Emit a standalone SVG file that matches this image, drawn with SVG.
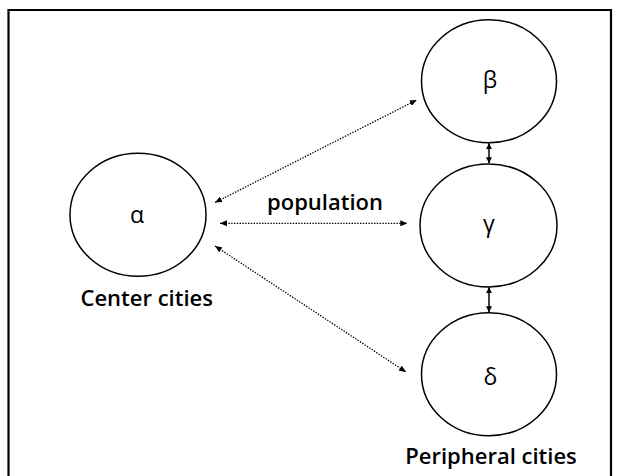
<svg xmlns="http://www.w3.org/2000/svg" width="617" height="476" viewBox="0 0 617 476">
  <style>
    .node { fill: #ffffff; stroke: #000000; stroke-width: 1.5; }
    .greek { font-family: "Open Sans", "Noto Sans", "DejaVu Sans", sans-serif; font-size: 23px; font-weight: 500; fill: #000000; text-anchor: middle; }
    .label { font-family: "Open Sans", "Noto Sans", "Liberation Sans", sans-serif; font-size: 22px; font-weight: 600; fill: #000000; text-anchor: middle; }
    .dotted { fill: none; stroke: #000000; stroke-width: 1.3; stroke-dasharray: 1.4 1.4; }
    .solid { fill: none; stroke: #000000; stroke-width: 1.5; }
  </style>
  <defs>
    <marker id="headDot" viewBox="0 0 7 6" refX="7" refY="3" markerWidth="7" markerHeight="6" markerUnits="userSpaceOnUse" orient="auto-start-reverse">
      <path d="M0,0 L7,3 L0,6 z" fill="#000000"/>
    </marker>
    <marker id="headSolid" viewBox="0 0 6 6" refX="6" refY="3" markerWidth="6" markerHeight="6" markerUnits="userSpaceOnUse" orient="auto-start-reverse">
      <path d="M0,0 L6,3 L0,6 z" fill="#000000"/>
    </marker>
  </defs>
  <rect x="0" y="0" width="617" height="476" fill="#ffffff"/>
  <path d="M8.5,476 V10 H611 V476" fill="none" stroke="#000000" stroke-width="2.2"/>

  <g id="connectors">
    <line class="dotted" x1="215" y1="202.5" x2="416.7" y2="100" marker-start="url(#headDot)" marker-end="url(#headDot)"/>
    <line class="dotted" x1="220" y1="223.3" x2="407.3" y2="223.3" marker-start="url(#headDot)" marker-end="url(#headDot)"/>
    <line class="dotted" x1="215" y1="246" x2="406" y2="372" marker-start="url(#headDot)" marker-end="url(#headDot)"/>
    <line class="solid" x1="489" y1="143.3" x2="489" y2="163.3" marker-start="url(#headSolid)" marker-end="url(#headSolid)"/>
    <line class="solid" x1="489" y1="287.3" x2="489" y2="312.3" marker-start="url(#headSolid)" marker-end="url(#headSolid)"/>
    <text class="label" x="325" y="209.5">population</text>
  </g>

  <g id="alpha">
    <ellipse class="node" cx="138" cy="214.7" rx="68" ry="61.5"/>
    <text class="greek" x="137" y="223">α</text>
  </g>
  <g id="beta">
    <ellipse class="node" cx="489" cy="81.2" rx="67.5" ry="61.5"/>
    <text class="greek" x="490" y="88">β</text>
  </g>
  <g id="gamma">
    <ellipse class="node" cx="488.5" cy="225.5" rx="68.5" ry="61.5"/>
    <text class="greek" x="489" y="232">γ</text>
  </g>
  <g id="delta">
    <ellipse class="node" cx="489" cy="374.2" rx="67.5" ry="61.5"/>
    <text class="greek" x="490.5" y="385">δ</text>
  </g>
  <g id="center-label">
    <text class="label" x="146.7" y="305.5">Center cities</text>
  </g>
  <g id="peripheral-label">
    <text class="label" x="491" y="463.5">Peripheral cities</text>
  </g>
</svg>
